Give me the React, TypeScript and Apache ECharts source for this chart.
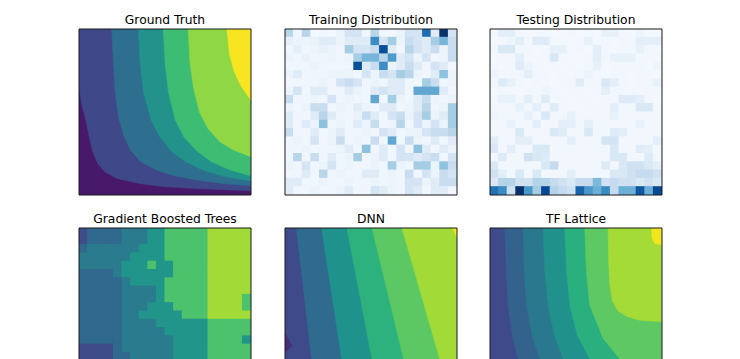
import { useEffect, useRef } from 'react';
import * as echarts from 'echarts';

const panelTitles = ['Ground Truth', 'Training Distribution', 'Testing Distribution', 'Gradient Boosted Trees', 'DNN', 'TF Lattice'];

const BLUES = ['#f7fbff', '#deebf7', '#c6dbef', '#9ecae1', '#6baed6', '#4292c6', '#2171b5', '#08519c', '#08306b'];

// Training distribution counts (rows top -> bottom, 20 x 20)
const trainingCounts = [
  [2.5, 0.3, 2.5, 0.2, 0.3, 0.2, 0.5, 1.5, 1.5, 0.3, 2.5, 0.3, 0.2, 0.5, 1.5, 1.5, 6.5, 1, 10, 1.5],
  [0.8, 0.5, 0.5, 0.6, 1, 1, 0.5, 1, 1, 1, 5.5, 1.5, 3, 0.5, 2, 1.5, 1, 3, 4, 2],
  [0.3, 0.8, 0.3, 0.5, 0.7, 0.5, 0.3, 3, 1.5, 1.5, 2, 7.5, 1, 0.3, 2.5, 1.5, 1, 2, 0.5, 2],
  [0.5, 0.3, 0.6, 0.3, 0.3, 0.5, 0.3, 0.5, 3, 4, 4, 2.5, 5, 1, 1.5, 0.5, 1.5, 0.3, 0.5, 2],
  [0.3, 0.3, 0.3, 0.5, 0.3, 0.3, 0.3, 0.3, 7.5, 1, 2, 5.5, 0.5, 1, 2, 1, 0.3, 1.5, 1, 0.3],
  [0.5, 1, 0.3, 0.3, 0.3, 0.5, 0.5, 0.5, 0.3, 1.5, 0.5, 2, 1.5, 3, 2.5, 0.5, 0.3, 1, 3.5, 0.5],
  [0.3, 0.3, 0.3, 0.3, 0.5, 0.3, 1.5, 2, 1.5, 0.3, 0.5, 0.3, 1, 1, 0.3, 0.3, 3, 2, 0.3, 0.5],
  [0.5, 1.5, 0.3, 1, 1, 0.3, 0.3, 1, 0.5, 0.3, 1, 1.5, 1, 1, 0.3, 4.5, 4.5, 4.5, 1, 0.3],
  [2, 0.3, 0.3, 0.5, 0.3, 1.5, 0.3, 0.5, 0.3, 0.3, 4.5, 0.3, 3, 0.5, 0.3, 1, 2, 0.5, 0.3, 0.5],
  [0.5, 0.3, 0.5, 2, 2, 0.3, 0.5, 0.3, 1, 0.5, 0.3, 1, 1, 0.3, 0.5, 1, 2.5, 0.3, 0.5, 3],
  [1, 0.3, 0.3, 1, 2.5, 1, 0.3, 0.3, 0.5, 2, 1, 0.3, 1.5, 2, 0.5, 1.5, 3, 0.5, 1, 3],
  [1, 0.3, 1, 0.5, 3.5, 0.3, 0.5, 0.3, 1, 0.5, 2, 0.3, 0.5, 2.5, 0.3, 1.5, 0.5, 1.5, 0.5, 3],
  [2, 0.3, 0.3, 1, 0.3, 0.5, 1, 0.3, 0.3, 0.5, 0.3, 1.5, 1, 0.3, 0.5, 0.5, 1.5, 2, 2, 2.5],
  [0.3, 0.5, 0.3, 1.5, 0.3, 0.5, 2, 0.3, 0.5, 0.3, 2, 0.3, 4.5, 0.3, 2, 0.5, 0.3, 1, 0.3, 1],
  [0.3, 0.3, 0.5, 0.3, 0.3, 0.3, 0.5, 1, 0.3, 3.5, 0.3, 1, 0.3, 1.5, 0.3, 3.5, 1, 0.3, 1, 0.5],
  [0.3, 2.5, 0.3, 2, 0.3, 1, 0.3, 0.5, 3, 0.3, 0.5, 1, 0.3, 1.5, 1.5, 1, 1.5, 2, 0.3, 1.5],
  [0.5, 0.3, 1.5, 0.3, 0.5, 1.5, 0.3, 0.5, 0.3, 0.3, 0.5, 0.3, 3, 0.5, 0.3, 3, 3, 0.5, 3.5, 2],
  [0.3, 0.3, 1, 0.3, 2.5, 0.3, 0.5, 0.3, 0.3, 1, 1, 0.3, 0.5, 0.3, 2, 0.3, 1.5, 0.5, 2, 1.5],
  [1, 1, 0.3, 0.3, 0.5, 0.3, 0.3, 0.5, 0.3, 0.3, 0.5, 0.3, 0.5, 0.3, 1.5, 1.5, 0.5, 1, 2, 2],
  [1, 0.3, 0.3, 0.5, 0.3, 0.3, 0.5, 1, 0.3, 0.3, 1.5, 1, 0.5, 0.3, 1.5, 1, 0.3, 1, 1, 0.3],
];

// Testing distribution counts (rows top -> bottom, 20 x 20)
const testingCounts = [
  [0.3, 1, 1, 0.3, 0.2, 0.2, 0.3, 0.2, 0.2, 0.3, 0.2, 0.3, 0.2, 0.8, 0.8, 0.3, 0.2, 0.5, 0.2, 0.3],
  [0.2, 0.3, 0.5, 1, 0.3, 1.2, 1.2, 0.3, 0.2, 0.2, 0.3, 0.8, 0.2, 0.3, 0.2, 0.3, 0.3, 1, 1, 1],
  [0.3, 1.5, 1.5, 0.3, 0.3, 0.2, 0.3, 0.8, 0.8, 0.2, 0.3, 0.2, 1, 0.3, 0.2, 0.3, 0.3, 0.8, 0.3, 0.2],
  [0.2, 0.3, 0.3, 1, 0.3, 0.2, 0.3, 1.5, 0.3, 0.2, 0.2, 0.3, 1, 0.3, 0.8, 0.8, 0.8, 0.2, 0.3, 0.3],
  [0.3, 0.2, 0.3, 1.2, 0.6, 0.3, 0.2, 0.3, 0.2, 0.3, 0.2, 0.3, 0.8, 0.2, 0.3, 0.2, 0.3, 0.3, 0.2, 0.5],
  [0.5, 0.3, 0.2, 0.3, 1, 0.3, 0.3, 0.2, 0.3, 0.2, 0.3, 0.6, 0.3, 0.2, 0.3, 0.3, 0.2, 0.3, 0.3, 0.2],
  [0.3, 1.3, 0.8, 0.3, 0.2, 0.3, 0.3, 0.2, 0.3, 0.3, 1.2, 0.3, 0.3, 1.5, 1, 0.3, 0.2, 0.3, 0.3, 0.8],
  [0.2, 0.3, 0.3, 0.2, 0.3, 0.2, 0.5, 0.3, 0.2, 0.3, 0.3, 0.2, 0.3, 1, 0.3, 0.3, 0.3, 0.2, 0.3, 0.3],
  [0.3, 0.8, 0.8, 0.3, 1, 0.3, 1.2, 0.3, 0.3, 0.2, 0.3, 0.3, 0.2, 0.3, 0.3, 1.3, 1.3, 1, 0.3, 0.2],
  [0.3, 0.3, 0.3, 0.8, 0.3, 1, 0.3, 1.2, 0.3, 0.3, 0.2, 0.3, 0.3, 0.3, 1, 0.3, 0.3, 1.5, 1.5, 0.3],
  [0.5, 0.3, 0.3, 0.3, 0.8, 0.3, 1.5, 0.3, 0.3, 0.8, 0.3, 0.3, 0.3, 0.3, 0.8, 0.3, 0.3, 0.3, 0.3, 0.3],
  [0.3, 0.3, 0.8, 0.3, 0.3, 1, 0.3, 0.3, 1, 1, 0.3, 1, 0.3, 0.3, 0.3, 0.3, 0.3, 0.8, 0.3, 0.3],
  [0.3, 0.3, 0.3, 1.5, 0.3, 0.3, 0.3, 1.5, 1.2, 0.3, 0.3, 1.5, 0.3, 0.3, 1.3, 1, 0.3, 0.3, 0.3, 0.3],
  [1.2, 0.3, 0.3, 1, 1, 0.3, 0.3, 0.3, 0.3, 1, 0.3, 0.3, 0.3, 1.8, 1.8, 0.3, 0.3, 0.3, 0.3, 1],
  [1.5, 0.3, 1, 0.3, 0.3, 1.5, 1.5, 0.3, 0.3, 0.3, 0.3, 0.3, 0.3, 0.3, 1.5, 0.3, 0.3, 1.2, 1, 0.3],
  [0.3, 1.3, 0.3, 0.3, 2, 1.5, 1.3, 0.3, 0.3, 0.3, 0.3, 0.3, 0.3, 0.3, 1.5, 1.5, 0.3, 0.3, 1.3, 0.3],
  [1.5, 0.3, 0.3, 0.3, 0.3, 0.3, 1.5, 2.5, 0.3, 0.3, 0.3, 0.3, 0.3, 1.3, 0.3, 1.5, 2, 2, 1.5, 1],
  [2, 1, 0.3, 1.5, 0.3, 1.5, 0.3, 0.3, 0.3, 1, 0.3, 0.3, 0.3, 0.3, 1.5, 1.5, 2, 2.5, 2.5, 2],
  [1.5, 3, 3, 2, 2, 3, 3, 2.5, 2, 1.5, 2.5, 2.5, 4.5, 2, 2.5, 2, 2, 1.5, 2, 1.5],
  [7.5, 6.5, 2, 10, 6, 3.5, 9, 3, 2.5, 2, 8, 6, 5, 6.5, 2.5, 5, 5, 8.5, 5, 9],
];

// Gradient boosted trees: prediction level per cell (rows top -> bottom)
const gbtLevels = [
  [1, 2, 2, 2, 2, 3, 3, 3, 4, 4, 5, 5, 5, 5, 5, 6, 6, 6, 6, 6],
  [1, 2, 2, 2, 2, 3, 3, 3, 4, 4, 5, 5, 5, 5, 5, 6, 6, 6, 6, 6],
  [2, 3, 3, 3, 3, 3, 3, 4, 4, 4, 5, 5, 5, 5, 5, 6, 6, 6, 6, 6],
  [3, 3, 3, 3, 3, 3, 4, 4, 4, 4, 5, 5, 5, 5, 5, 6, 6, 6, 6, 6],
  [3, 3, 3, 3, 3, 4, 4, 4, 5, 4, 4, 5, 5, 5, 5, 6, 6, 6, 6, 6],
  [2, 2, 2, 2, 3, 4, 4, 4, 4, 4, 4, 5, 5, 5, 5, 6, 6, 6, 6, 6],
  [2, 2, 2, 2, 2, 3, 4, 4, 4, 4, 5, 5, 5, 5, 5, 6, 6, 6, 6, 6],
  [2, 2, 2, 2, 2, 3, 3, 3, 3, 4, 5, 5, 5, 5, 5, 6, 6, 6, 6, 6],
  [2, 2, 2, 2, 2, 3, 3, 3, 3, 4, 5, 5, 5, 5, 5, 6, 6, 6, 6, 5],
  [2, 2, 2, 2, 2, 3, 3, 3, 4, 4, 4, 5, 5, 5, 5, 6, 6, 6, 6, 5],
  [2, 2, 2, 2, 2, 3, 3, 4, 4, 4, 4, 4, 5, 5, 5, 6, 6, 6, 6, 6],
  [2, 2, 2, 2, 2, 3, 3, 3, 3, 4, 4, 4, 4, 4, 4, 5, 5, 5, 5, 5],
  [2, 2, 2, 2, 2, 3, 3, 3, 3, 3, 4, 4, 4, 4, 4, 5, 5, 5, 5, 5],
  [2, 2, 2, 2, 2, 3, 3, 3, 3, 3, 3, 4, 4, 4, 4, 5, 5, 5, 5, 4],
  [1, 1, 1, 1, 2, 3, 3, 3, 3, 3, 3, 4, 4, 4, 4, 5, 5, 5, 5, 5],
  [1, 1, 1, 1, 2, 2, 3, 3, 3, 3, 3, 4, 4, 4, 4, 5, 5, 5, 5, 5],
  [1, 1, 1, 1, 2, 2, 3, 3, 3, 3, 3, 4, 4, 4, 4, 5, 5, 5, 5, 5],
  [1, 1, 1, 1, 2, 2, 3, 3, 3, 3, 3, 4, 4, 4, 4, 5, 5, 5, 5, 5],
  [1, 1, 1, 1, 2, 2, 3, 3, 3, 3, 3, 4, 4, 4, 4, 5, 5, 5, 5, 5],
  [1, 1, 1, 1, 2, 2, 3, 3, 3, 3, 3, 4, 4, 4, 4, 5, 5, 5, 5, 5],
];
const gbtColors = ['#3e4c8a', '#31688e', '#2a7b8e', '#22958b', '#4cc26c', '#a2da37'];

// Ground truth filled contour regions (x, y in [0,1]), lowest level first
const groundTruthRegions = [
  [[0, 0], [1, 0], [1, 1], [0, 1]],
  [[0, 0.65], [0.015, 0.55], [0.04, 0.45], [0.06, 0.35], [0.08, 0.26], [0.11, 0.19], [0.15, 0.14], [0.22, 0.1], [0.35, 0.07], [0.5, 0.05], [0.7, 0.038], [1, 0.026], [1, 1], [0, 1]],
  [[0.19, 1], [0.2, 0.8], [0.21, 0.62], [0.23, 0.47], [0.26, 0.36], [0.3, 0.27], [0.36, 0.2], [0.45, 0.15], [0.56, 0.115], [0.7, 0.088], [0.85, 0.068], [1, 0.055], [1, 1]],
  [[0.345, 1], [0.355, 0.8], [0.375, 0.62], [0.42, 0.45], [0.47, 0.35], [0.54, 0.26], [0.62, 0.2], [0.72, 0.15], [0.85, 0.11], [1, 0.085], [1, 1]],
  [[0.49, 1], [0.5, 0.8], [0.52, 0.62], [0.56, 0.45], [0.61, 0.35], [0.68, 0.27], [0.77, 0.2], [0.88, 0.15], [1, 0.115], [1, 1]],
  [[0.635, 1], [0.645, 0.8], [0.665, 0.65], [0.7, 0.5], [0.75, 0.4], [0.82, 0.32], [0.9, 0.27], [1, 0.23], [1, 1]],
  [[0.86, 1], [0.875, 0.85], [0.9, 0.75], [0.94, 0.66], [1, 0.57], [1, 1]],
];
const groundTruthColors = ['#48196b', '#3f4889', '#2e6e8e', '#22928b', '#3dbc74', '#8fd744', '#f7e51f'];

// DNN filled contour regions
const dnnRegions = [
  [[0, 0], [1, 0], [1, 1], [0, 1]],
  [[0, 0.365], [0.04, 0.29], [0, 0.25]],
  [[0.066, 1], [0.178, 0], [1, 0], [1, 1]],
  [[0.213, 1], [0.361, 0], [1, 0], [1, 1]],
  [[0.36, 1], [0.545, 0], [1, 0], [1, 1]],
  [[0.506, 1], [0.739, 0], [1, 0], [1, 1]],
  [[0.68, 1], [0.959, 0], [1, 0], [1, 1]],
  [[0.975, 1], [1, 0.94], [1, 1]],
];
const dnnColors = ['#3e4a89', '#472d7b', '#2f6b8e', '#20928c', '#2db27d', '#5cc863', '#a2da37', '#f0e51c'];

// TF Lattice filled contour regions
const latticeRegions = [
  [[0, 0], [1, 0], [1, 1], [0, 1]],
  [[0.085, 1], [0.095, 0.75], [0.105, 0.536], [0.13, 0.35], [0.163, 0.211], [0.2, 0.1], [0.25, 0], [1, 0], [1, 1]],
  [[0.192, 1], [0.2, 0.75], [0.212, 0.536], [0.245, 0.35], [0.29, 0.211], [0.34, 0.1], [0.4, 0], [1, 0], [1, 1]],
  [[0.309, 1], [0.318, 0.75], [0.338, 0.536], [0.375, 0.35], [0.425, 0.211], [0.48, 0.1], [0.55, 0], [1, 0], [1, 1]],
  [[0.435, 1], [0.445, 0.75], [0.464, 0.536], [0.51, 0.35], [0.58, 0.211], [0.65, 0.1], [0.72, 0], [1, 0], [1, 1]],
  [[0.551, 1], [0.56, 0.75], [0.58, 0.536], [0.658, 0.335], [0.755, 0.211], [0.85, 0.1], [0.95, 0], [1, 0], [1, 1]],
  [[0.687, 1], [0.69, 0.8], [0.697, 0.66], [0.712, 0.56], [0.745, 0.5], [0.8, 0.465], [0.87, 0.445], [1, 0.435], [1, 1]],
  [[0.94, 1], [0.942, 0.94], [0.96, 0.905], [1, 0.9], [1, 1]],
];
const latticeColors = ['#3e4a89', '#33638d', '#2a788e', '#21918c', '#2ab07f', '#5ec962', '#a5db36', '#f1e51d'];

// layout: panels are 172 x 166; the bottom row is cut by the page edge
const PANEL_LEFTS = [79, 285, 490];
const PANEL_TOPS = [29, 228];
const PANEL_W = 172;
const PANEL_H = 166;
const PAGE_H = 359;
const VISIBLE_FRAC = (PAGE_H - PANEL_TOPS[1]) / PANEL_H; // share of bottom panels that is on the page

function gridData(rows: number[][]) {
  const out: number[][] = [];
  rows.forEach((row, r) => row.forEach((v, c) => out.push([c, r, v])));
  return out;
}

function contourSeries(idx: number, regions: number[][][], colors: string[]) {
  return {
    type: 'custom',
    coordinateSystem: 'cartesian2d',
    xAxisIndex: idx,
    yAxisIndex: idx,
    silent: true,
    clip: true,
    data: regions.map((_, i) => [0.5, 0.5, i]),
    renderItem: (_params: any, api: any) => {
      const i = api.value(2);
      const pts = regions[i].map((p) => api.coord(p));
      return {
        type: 'polygon',
        shape: { points: pts },
        style: { fill: colors[i], stroke: colors[i], lineWidth: 0.6 },
      };
    },
  };
}

// colorOf: null -> take the colour from the visualMap
function cellSeries(idx: number, rows: number[][], colorOf: ((v: number) => string) | null) {
  return {
    type: 'custom',
    coordinateSystem: 'cartesian2d',
    xAxisIndex: idx,
    yAxisIndex: idx,
    silent: true,
    clip: true,
    data: gridData(rows),
    renderItem: (_params: any, api: any) => {
      const c = api.value(0);
      const r = api.value(1);
      const p0 = api.coord([c, r]);
      const p1 = api.coord([c + 1, r + 1]);
      const color = colorOf ? colorOf(api.value(2)) : api.visual('color');
      const x = Math.min(p0[0], p1[0]);
      const y = Math.min(p0[1], p1[1]);
      return {
        type: 'rect',
        shape: { x: x - 0.5, y: y - 0.5, width: Math.abs(p1[0] - p0[0]) + 1, height: Math.abs(p1[1] - p0[1]) + 1 },
        style: { fill: color },
      };
    },
  };
}

function frameSeries(idx: number) {
  return {
    type: 'custom',
    coordinateSystem: 'cartesian2d',
    xAxisIndex: idx,
    yAxisIndex: idx,
    silent: true,
    z: 10,
    data: [[0.5, 0.5]],
    renderItem: (params: any) => {
      const cs = params.coordSys;
      return {
        type: 'rect',
        shape: { x: cs.x, y: cs.y, width: cs.width, height: idx >= 3 ? cs.height + 5 : cs.height },
        style: { fill: 'none', stroke: '#1a1a1a', lineWidth: 1 },
      };
    },
  };
}

export default function App() {
  const ref = useRef<HTMLDivElement>(null);
  useEffect(() => {
    if (!ref.current) return;
    const chart = echarts.init(ref.current, undefined, { renderer: 'svg' });
    const grids: any[] = [];
    const xAxes: any[] = [];
    const yAxes: any[] = [];
    const cellPanel = [false, true, true, true, false, false];
    for (let i = 0; i < 6; i++) {
      const bottomRow = i >= 3;
      grids.push({
        left: PANEL_LEFTS[i % 3],
        top: PANEL_TOPS[bottomRow ? 1 : 0],
        width: PANEL_W,
        height: bottomRow ? PAGE_H - PANEL_TOPS[1] : PANEL_H,
      });
      if (cellPanel[i]) {
        xAxes.push({ gridIndex: i, type: 'value', min: 0, max: 20, show: false });
        yAxes.push({ gridIndex: i, type: 'value', min: 0, max: bottomRow ? 20 * VISIBLE_FRAC : 20, inverse: true, show: false });
      } else {
        xAxes.push({ gridIndex: i, type: 'value', min: 0, max: 1, show: false });
        yAxes.push({ gridIndex: i, type: 'value', min: bottomRow ? 1 - VISIBLE_FRAC : 0, max: 1, show: false });
      }
    }
    const titleGraphics = panelTitles.map((t, i) => ({
      type: 'text',
      x: PANEL_LEFTS[i % 3] + PANEL_W / 2,
      y: PANEL_TOPS[i >= 3 ? 1 : 0] - 9,
      style: {
        text: t,
        font: '12.3px "DejaVu Sans"',
        fill: '#000',
        align: 'center',
        verticalAlign: 'middle',
      },
    }));
    chart.setOption({
      animation: false,
      backgroundColor: '#ffffff',
      grid: grids,
      xAxis: xAxes,
      yAxis: yAxes,
      visualMap: [
        { type: 'continuous', seriesIndex: 1, dimension: 2, min: 0, max: 8.5, inRange: { color: BLUES }, show: false },
        { type: 'continuous', seriesIndex: 2, dimension: 2, min: 0, max: 10, inRange: { color: BLUES }, show: false },
      ],
      graphic: titleGraphics,
      series: [
        contourSeries(0, groundTruthRegions, groundTruthColors),
        cellSeries(1, trainingCounts, null),
        cellSeries(2, testingCounts, null),
        cellSeries(3, gbtLevels, (v) => gbtColors[v - 1]),
        contourSeries(4, dnnRegions, dnnColors),
        contourSeries(5, latticeRegions, latticeColors),
        ...[0, 1, 2, 3, 4, 5].map((i) => frameSeries(i)),
      ],
    });
    return () => chart.dispose();
  }, []);
  return <div ref={ref} style={{ position: 'fixed', left: 0, top: 0, width: 740, height: 359 }} />;
}
